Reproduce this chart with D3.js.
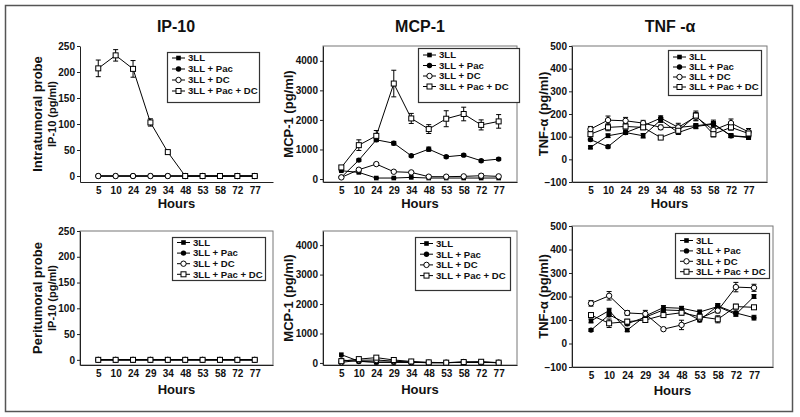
<!DOCTYPE html>
<html><head><meta charset="utf-8">
<script src="https://cdn.jsdelivr.net/npm/d3@7"></script>
<style>
body{margin:0;background:#fff}
svg{display:block}
text{font-family:"Liberation Sans",Arial,Helvetica,sans-serif;font-weight:bold;fill:#111}
</style>
</head><body>
<svg id="c" width="800" height="417"></svg>
<script>
// ---------- data ----------
const hours = ["5","10","24","29","34","48","53","58","72","77"];
const seriesNames = ["3LL","3LL + Pac","3LL + DC","3LL + Pac + DC"];
const markerTypes = ["sq","dot","ocirc","osq"];
const titles = ["IP-10","MCP-1","TNF -\u03b1"];

const ip10TicksY = [0,50,100,150,200,250];
const mcpTicksY = [0,1000,2000,3000,4000];
const tnfTicksY = [-100,0,100,200,300,400,500];

// IP-10 intratumoral
const ip10In3LL   = [0,0,0,0,0,0,0,0,0,0];
const ip10InPac   = [0,0,0,0,0,0,0,0,0,0];
const ip10InDC    = [0,0,0,0,0,0,0,0,0,0];
const ip10InPacDC = [207,232,206,103,46,0,0,0,0,0];
const ip10InPacDCErr = [16,11,16,7,2,0,0,0,0,0];
// IP-10 peritumoral
const ip10Pe3LL   = [0,0,0,0,0,0,0,0,0,0];
const ip10PePac   = [0,0,0,0,0,0,0,0,0,0];
const ip10PeDC    = [0,0,0,0,0,0,0,0,0,0];
const ip10PePacDC = [0,0,0,0,0,0,0,0,0,0];

// MCP-1 intratumoral
const mcpIn3LL   = [281,225,34,34,56,34,34,34,34,34];
const mcpInPac   = [60,640,1326,1213,787,1011,753,809,618,674];
const mcpInDC    = [56,315,506,247,225,80,80,90,112,90];
const mcpInPacDC = [393,1146,1461,3230,2050,1690,2040,2200,1831,1950];
const mcpIn3LLErr   = [20,20,10,10,10,10,10,10,10,10];
const mcpInPacErr   = [20,40,60,60,40,70,40,40,40,40];
const mcpInDCErr    = [20,40,30,30,20,20,20,20,60,20];
const mcpInPacDCErr = [60,180,180,450,170,150,270,230,170,230];
// MCP-1 peritumoral
const mcpPe3LL   = [280,60,20,20,20,10,10,20,20,10];
const mcpPePac   = [100,50,30,30,20,10,10,20,30,10];
const mcpPeDC    = [20,90,100,60,30,10,10,30,20,10];
const mcpPePacDC = [60,130,180,100,50,20,10,30,40,10];

// TNF-alpha intratumoral
const tnfIn3LL   = [53,104,118,104,173,118,145,155,104,96];
const tnfInPac   = [87,56,118,148,182,141,148,158,104,99];
const tnfInDC    = [133,173,170,160,141,141,188,129,160,121];
const tnfInPacDC = [111,141,145,141,96,126,193,111,141,114];
const tnfIn3LLErr   = [6,8,8,10,10,8,10,12,8,8];
const tnfInPacErr   = [6,6,8,8,10,10,10,15,8,8];
const tnfInDCErr    = [12,18,15,12,10,18,18,20,18,15];
const tnfInPacDCErr = [10,15,12,10,6,10,20,12,12,12];
// TNF-alpha peritumoral
const tnfPe3LL   = [96,140,57,117,153,150,134,157,124,200];
const tnfPePac   = [57,122,84,112,143,140,100,160,130,110];
const tnfPeDC    = [171,203,130,126,61,79,107,140,240,237];
const tnfPePacDC = [121,86,93,100,121,131,114,103,157,154];
const tnfPe3LLErr   = [8,10,6,8,8,8,8,12,8,8];
const tnfPePacErr   = [6,8,8,8,8,8,8,10,8,10];
const tnfPeDCErr    = [12,18,10,15,6,20,10,10,20,15];
const tnfPePacDCErr = [10,18,10,10,10,10,8,15,10,8];

const zeros = hours.map(() => 0);

// ---------- drawing ----------
const svg = d3.select("#c");
svg.append("rect").attr("width",800).attr("height",417).attr("fill","#fff");
svg.append("rect").attr("x",5.5).attr("y",5.5).attr("width",787).attr("height",406)
  .attr("fill","none").attr("stroke","#555").attr("stroke-width",1.5);

const colCenters = [176,420,670];
titles.forEach((t,i)=>{
  svg.append("text").attr("x",colCenters[i]).attr("y",32).attr("text-anchor","middle")
    .attr("font-size",16).text(t);
});

function marker(g, type, cx, cy){
  if(type==="sq"){
    g.append("rect").attr("x",cx-2.3).attr("y",cy-2.3).attr("width",4.6).attr("height",4.6).attr("fill","#000");
  } else if(type==="dot"){
    g.append("circle").attr("cx",cx).attr("cy",cy).attr("r",2.7).attr("fill","#000");
  } else if(type==="ocirc"){
    g.append("circle").attr("cx",cx).attr("cy",cy).attr("r",2.7).attr("fill","#fff").attr("stroke","#000").attr("stroke-width",1);
  } else {
    g.append("rect").attr("x",cx-2.5).attr("y",cy-2.5).attr("width",5).attr("height",5).attr("fill","#fff").attr("stroke","#000").attr("stroke-width",1);
  }
}

function panel(p){
  const g = svg.append("g");
  const x = d3.scalePoint().domain(hours).range([p.left,p.right]).padding(1.05);
  const y = d3.scaleLinear().domain(p.yDomain).range([p.bottom,p.top]);
  if(p.box){
    g.append("rect").attr("x",p.left).attr("y",p.top).attr("width",p.right-p.left).attr("height",p.bottom-p.top)
      .attr("fill","none").attr("stroke","#777").attr("stroke-width",1);
  }
  // y axis
  const ya = g.append("g").attr("transform",`translate(${p.left},0)`)
    .call(d3.axisLeft(y).tickValues(p.yTicks).tickFormat(d3.format("d")).tickSize(3).tickSizeOuter(0).tickPadding(2));
  ya.selectAll("text").attr("font-size",10).attr("font-family",null).style("fill","#111");
  ya.selectAll("line,path").attr("stroke","#222");
  // x axis
  const xa = g.append("g").attr("transform",`translate(0,${p.bottom})`)
    .call(d3.axisBottom(x).tickSize(0).tickSizeOuter(0).tickPadding(5));
  xa.selectAll("text").attr("font-size",10).attr("font-family",null).style("fill","#111");
  xa.selectAll("path").attr("stroke","#222");
  // axis titles
  g.append("text").attr("x",(p.left+p.right)/2).attr("y",p.bottom+p.hoursDy).attr("text-anchor","middle")
    .attr("font-size",13).text("Hours");
  p.yLabels.forEach(l=>{
    g.append("text").attr("transform",`translate(${l.x},${(p.top+p.bottom)/2}) rotate(-90)`)
      .attr("text-anchor","middle").attr("font-size",l.size).text(l.text);
  });
  // series
  const line = d3.line().x((d,i)=>x(hours[i])).y(d=>y(d));
  p.series.forEach(s=>{
    g.append("path").attr("d",line(s.values)).attr("fill","none").attr("stroke","#000").attr("stroke-width",1);
  });
  p.series.forEach(s=>{
    s.errors.forEach((e,i)=>{
      if(e<=0) return;
      const cx = x(hours[i]);
      const y1 = y(s.values[i]-e), y2 = y(s.values[i]+e);
      g.append("line").attr("x1",cx).attr("x2",cx).attr("y1",y1).attr("y2",y2).attr("stroke","#000");
      [y1,y2].forEach(yy=>g.append("line").attr("x1",cx-2.5).attr("x2",cx+2.5).attr("y1",yy).attr("y2",yy).attr("stroke","#000"));
    });
  });
  p.series.forEach(s=>{
    s.values.forEach((v,i)=>marker(g,s.type,x(hours[i]),y(v)));
  });
  // legend
  const L = p.legend;
  const lg = g.append("g");
  lg.append("rect").attr("x",L.x+0.5).attr("y",L.y+0.5).attr("width",L.w).attr("height",L.h)
    .attr("fill","#fff").attr("stroke","#333").attr("stroke-width",1.2);
  seriesNames.forEach((n,i)=>{
    const cy = L.y + L.first + i*L.row;
    lg.append("line").attr("x1",L.x+5).attr("x2",L.x+18).attr("y1",cy).attr("y2",cy).attr("stroke","#000");
    marker(lg, markerTypes[i], L.x+11.5, cy);
    lg.append("text").attr("x",L.x+21).attr("y",cy).attr("dy","0.35em").attr("font-size",9.6).text(n);
  });
}

function mk(vals, errs){
  return vals.map((v,i)=>({values:v, errors:errs[i], type:markerTypes[i]}));
}

// top row
panel({left:80,right:273,top:46,bottom:182,yDomain:[-11.5,250],yTicks:ip10TicksY,box:false,hoursDy:26,
  yLabels:[{x:41.5,size:13,text:"Intratumoral probe"},{x:56,size:11,text:"IP-10 (pg/ml)"}],
  series:mk([ip10In3LL,ip10InPac,ip10InDC,ip10InPacDC],[zeros,zeros,zeros,ip10InPacDCErr]),
  legend:{x:167,y:52,w:92,h:50,first:6,row:11}});
panel({left:323,right:517,top:46,bottom:182,yDomain:[-100,4500],yTicks:mcpTicksY,box:true,hoursDy:26,
  yLabels:[{x:292.5,size:13,text:"MCP-1 (pg/ml)"}],
  series:mk([mcpIn3LL,mcpInPac,mcpInDC,mcpInPacDC],[mcpIn3LLErr,mcpInPacErr,mcpInDCErr,mcpInPacDCErr]),
  legend:{x:418,y:48,w:101,h:54,first:7,row:10.5}});
panel({left:572,right:767,top:46,bottom:182,yDomain:[-100,500],yTicks:tnfTicksY,box:true,hoursDy:26,
  yLabels:[{x:548,size:13,text:"TNF-\u03b1 (pg/ml)"}],
  series:mk([tnfIn3LL,tnfInPac,tnfInDC,tnfInPacDC],[tnfIn3LLErr,tnfInPacErr,tnfInDCErr,tnfInPacDCErr]),
  legend:{x:668,y:50,w:93,h:45,first:7,row:10}});
// bottom row
panel({left:80,right:273,top:231,bottom:365,yDomain:[-10,250],yTicks:ip10TicksY,box:true,hoursDy:29,
  yLabels:[{x:41.5,size:13,text:"Peritumoral probe"},{x:56,size:11,text:"IP-10 (pg/ml)"}],
  series:mk([ip10Pe3LL,ip10PePac,ip10PeDC,ip10PePacDC],[zeros,zeros,zeros,zeros]),
  legend:{x:172,y:237,w:93,h:43,first:5.5,row:10.6}});
panel({left:323,right:517,top:231,bottom:365,yDomain:[-70,4480],yTicks:mcpTicksY,box:true,hoursDy:29,
  yLabels:[{x:292.5,size:13,text:"MCP-1 (pg/ml)"}],
  series:mk([mcpPe3LL,mcpPePac,mcpPeDC,mcpPePacDC],[zeros,zeros,zeros,zeros]),
  legend:{x:415,y:237,w:95,h:53,first:6.5,row:10.7}});
panel({left:572,right:773,top:226,bottom:367,yDomain:[-100,500],yTicks:tnfTicksY,box:true,hoursDy:28,
  yLabels:[{x:548,size:13,text:"TNF-\u03b1 (pg/ml)"}],
  series:mk([tnfPe3LL,tnfPePac,tnfPeDC,tnfPePacDC],[tnfPe3LLErr,tnfPePacErr,tnfPeDCErr,tnfPePacDCErr]),
  legend:{x:675,y:233,w:94,h:45,first:7.5,row:10.4}});
</script>
</body></html>
